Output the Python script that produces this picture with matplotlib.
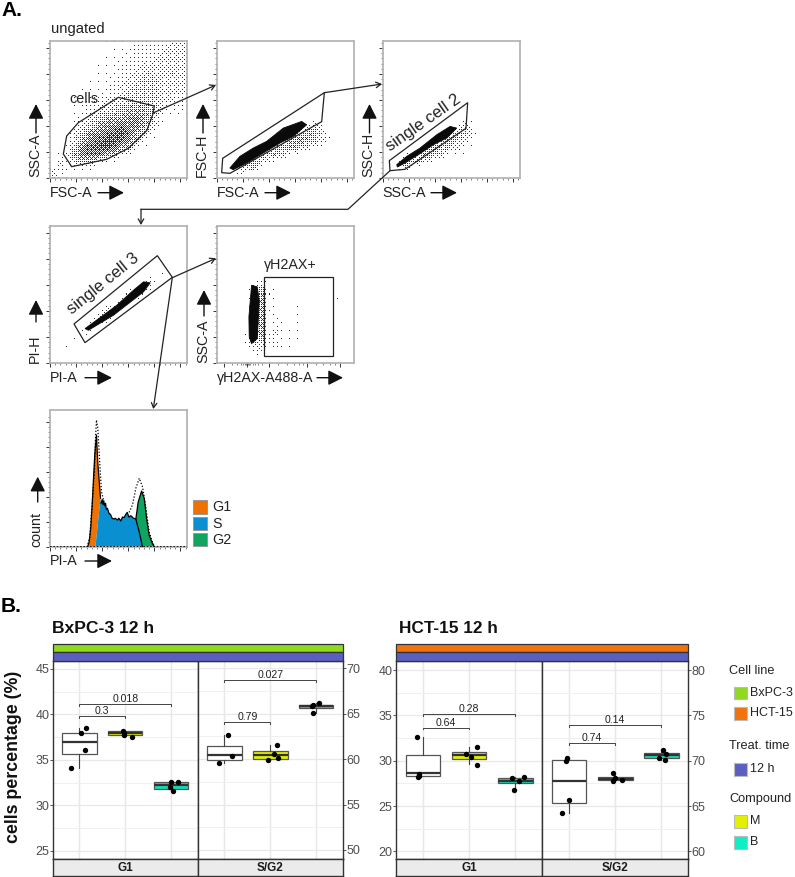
import numpy as np
import matplotlib
matplotlib.use("Agg")
import matplotlib.pyplot as plt
from matplotlib.patches import Rectangle, Polygon
from matplotlib.colors import ListedColormap

plt.rcParams['font.family'] = ['Liberation Sans', 'DejaVu Sans']

W, H = 795, 877

# ---------- panel A: flow-cytometry event density, read cell by cell (0-9) ----------
density_fsc_ssc = [
 "00000000111122222333","00000001011122223333","00000001111222233333","00000011112223333333",
 "00000011112233433433","00000111122334443333","00001111223344443333","00011111223444443333",
 "00011122333444443322","00011223344555443222","00011234455666542111","00012345666776531000",
 "00023456778776420000","00034677889865310000","00135788998753100000","01146889986531000000",
 "01257887653200000000","02245543210000000000","13111110000000000000","41100000000000000000"]
density_fsca_fsch = [
 "00000000000000000000","00000000000000000000","00000000000000000000","00000000000000000000",
 "00000000000000000000","00000000000000000000","00000000000000000000","00000000000000000000",
 "00000000000000000000","00000000000000000000","00000000000000000000","00000000000000100000",
 "00000000000014520000","00000000000256531000","00000000016675531000","00000001556643200000",
 "00000145652100000000","00015653100000000000","00145510000000000000","00120000000000000000"]
density_ssca_ssch = [
 "00000000000000000000","00000000000000000000","00000000000000000000","00000000000000000000",
 "00000000000000000000","00000000000000000000","00000000000000000000","00000000000000000000",
 "00000000000000000000","00000000000000000000","00000000000000000000","00000000000110000000",
 "00000000001440000000","00000000025542000000","00000002565421000000","00000256553211000000",
 "00012565421210000000","00155531000000000000","00351000000000000000","00000000000000000000"]
density_pia_pih = [
 "00000000000000000000","00000000000000000000","00000000000000000000","00000000000000000000",
 "00000000000000000000","00000000000000000100","00000000000000001010","00000000000000111000",
 "00000000000002420000","00000000000134200000","00000000002420100000","00000000035100000000",
 "00000002530000000000","00000025200000000000","00000141000000000000","00002200000000000000",
 "00010000000000000000","00100000000000000000","01000000000000000000","10000000000000000000"]
density_h2ax_ssc = [
 "00000000000000000000","00000000000000000000","00000000000000000000","00000000000000000000",
 "00000000000000000000","00000000000000000000","00000000000000000000","00000000000000000000",
 "00000130010000000000","00000362100100000000","00000371100000000100","00000471100100000000",
 "00001472100110000000","00001471210100000000","00001471211100000000","00002471311110000000",
 "00002462211100000000","00002431311000000000","00000210000000000000","00000000000000000000"]

# dense core of each narrow population, outlined from the picture (x, y in channel units)
core_fsca_x = [25.6, 44.8, 70.4, 96, 128, 163.2, 172.8, 147.2, 121.6, 89.6, 57.6, 32]
core_fsca_y = [19.2, 41.6, 57.6, 70.4, 96, 108.8, 102.4, 80, 67.2, 48, 28.8, 16]
core_ssca_x = [26.9, 46.1, 71.7, 103.7, 129.3, 142, 122.9, 97.3, 68.5, 42.9, 28.2]
core_ssca_y = [25.6, 41.6, 57.6, 83.2, 99.2, 96, 76.8, 64, 44.8, 28.8, 21.1]
core_pia_x = [67.2, 96, 128, 160, 179.2, 192, 179.2, 150.4, 121.6, 89.6, 73.6]
core_pia_y = [65.9, 87, 110.7, 139.5, 155.5, 153.6, 136.3, 113.9, 91.5, 72.3, 62.7]
core_h2ax_x = [67.2, 78.1, 81.9, 80, 78.1, 67.2, 62.7, 62.1, 65.3]
core_h2ax_y = [149, 145.9, 120.3, 81.9, 46.7, 37.1, 49.9, 88.3, 126.7]

# ---------- panel A: PI histogram ----------
g1_x = [72, 75, 78, 81, 84, 86, 89, 91.5, 94.8, 96.8, 87]
g1_y = [0, 4, 15, 35, 60, 75, 89.6, 68, 50, 39, 0]
s_x = [87, 96.8, 98, 100, 101.5, 103, 104.5, 106.5, 108, 110, 113, 116, 119, 122.6, 125, 129, 132, 135.5, 139, 142, 145, 148, 151, 155, 160, 164.5, 171, 177.4]
s_y = [0, 39, 35, 38, 34, 37, 33, 35, 30, 31, 27, 26, 23, 22.4, 23, 21.6, 23, 20.8, 24, 23.5, 26, 27.7, 24, 25, 23, 22.4, 12, 0]
g2_x = [164.5, 169, 175.5, 180.6, 185, 190, 195, 200, 177.4]
g2_y = [22.4, 36, 44.8, 39, 23, 9.6, 4, 0, 0]
env_x = [71, 76, 85, 86.5, 89, 91.6, 94.8, 98.7, 103]
env_y = [0, 7, 60, 81.6, 101.6, 95, 71, 44, 37]
env2_x = [151.6, 158, 164.5, 171, 177.4, 183.9, 190, 197, 201]
env2_y = [27.7, 33.6, 47, 55, 48, 31, 12, 3, 0]

# ---------- panel B: box statistics (low, q1, median, q3, high) for the three groups ----------
bx_g1_low = [34.1, 37.7, 31.84];  bx_g1_q1 = [35.6, 37.7, 31.84];  bx_g1_med = [37.0, 37.94, 32.24]
bx_g1_q3 = [38.0, 38.16, 32.57];  bx_g1_high = [38.5, 38.16, 32.57]
bx_g1_px = [[-.175, .036, .146, .117], [-.05, -.036, -.036, .146], [0, .146, -.015, .044]]
bx_g1_py = [[34.1, 37.9, 38.5, 36.1], [38.16, 37.94, 37.7, 37.5], [32.54, 32.6, 32.06, 31.6]]

bx_sg_low = [59.56, 59.85, 65.1];  bx_sg_q1 = [59.93, 60.04, 65.6];  bx_sg_med = [60.4, 60.4, 65.85]
bx_sg_q3 = [61.47, 60.88, 66.0];  bx_sg_high = [62.6, 61.58, 66.18]
bx_sg_px = [[-.124, .08, .168], [-.044, .153, .08, .175], [-.095, -.06, .058, -.08]]
bx_sg_py = [[59.56, 62.6, 60.33], [59.85, 61.54, 60.6, 60.15], [65.8, 65.9, 66.18, 65.1]]

hc_g1_low = [28.32, 29.65, 26.8];  hc_g1_q1 = [28.32, 30.17, 27.5];  hc_g1_med = [28.62, 30.6, 27.77]
hc_g1_q3 = [30.6, 30.98, 28.14];  hc_g1_high = [32.6, 31.5, 28.25]
hc_g1_px = [[-.139, -.088, -.1, -.085], [-.073, .036, .168, .18], [-.08, .08, .19, -.03]]
hc_g1_py = [[32.6, 28.55, 28.18, 28.35], [30.75, 30.4, 31.5, 29.58], [28.07, 27.77, 28.25, 26.78]]

hc_sg_low = [64.2, 67.85, 70.05];  hc_sg_q1 = [65.3, 67.85, 70.28];  hc_sg_med = [67.8, 68.03, 70.6]
hc_sg_q3 = [70.05, 68.25, 70.9];  hc_sg_high = [70.35, 68.66, 71.23]
hc_sg_px = [[-.16, -.007, -.08, -.044], [-.05, 0, -.05, .146], [.03, .11, -.058, .088]]
hc_sg_py = [[64.2, 65.67, 69.95, 70.35], [68.66, 68.07, 67.8, 67.85], [71.23, 70.75, 70.35, 70.05]]

# brackets: (from category, to category, height, label)
br_bx_g1 = [(1, 2, 39.8, "0.3"), (1, 3, 41.14, "0.018")]
br_bx_sg = [(1, 2, 64.08, "0.79"), (1, 3, 68.71, "0.027")]
br_hc_g1 = [(1, 2, 33.63, "0.64"), (1, 3, 35.14, "0.28")]
br_hc_sg = [(1, 2, 71.9, "0.74"), (1, 3, 73.89, "0.14")]

phase_names = ["G1", "S", "G2"]
cell_lines = ["BxPC-3", "HCT-15"]
compounds = ["M", "B"]

C_G1, C_S, C_G2 = "#EE7203", "#0A8FD0", "#0FA560"
C_BX, C_HC, C_TIME = "#8FD91F", "#F2720F", "#5B5FBF"
C_M, C_B = "#E3F000", "#0FEFC6"
BOX_COL = ["white", C_M, "#12DDB8"]

fig = plt.figure(figsize=(W / 100, H / 100), dpi=100)


def px_axes(x0, y0, x1, y1, **kw):
    return fig.add_axes([x0 / W, 1 - y1 / H, (x1 - x0) / W, (y1 - y0) / H], **kw)


def flow_axes(x0, y0, x1, y1):
    ax = px_axes(x0, y0, x1, y1)
    ax.set_xlim(0, 262.5)
    ax.set_ylim(0, 262.5)
    ax.set_xticks(np.arange(0, 251, 50))
    ax.set_yticks(np.arange(0, 251, 50))
    ax.set_xticks(np.arange(0, 261, 10), minor=True)
    ax.set_yticks(np.arange(0, 261, 10), minor=True)
    ax.tick_params(which='major', length=3, width=0.7, color='#333', labelleft=False, labelbottom=False)
    ax.tick_params(which='minor', length=1.5, width=0.5, color='#555')
    for s in ax.spines.values():
        s.set_color('#b0b0b0')
        s.set_linewidth(1.2)
    return ax


def bayer(n):
    m = np.array([[0.0]])
    while m.shape[0] < n:
        m = np.block([[4 * m, 4 * m + 2], [4 * m + 3, 4 * m + 1]])
    return (m + 0.5) / (n * n)


def density(ax, grid, vmax=9):
    """Render the typed density grid as a halftone of single event-sized dots."""
    arr = np.array([[int(c) for c in row.ljust(20, '0')] for row in grid], float) / vmax
    n = 137
    centres = (np.arange(20) + 0.5) * n / 20
    pos = np.arange(n) + 0.5
    fine = np.array([np.interp(pos, centres, r) for r in arr])
    fine = np.array([np.interp(pos, centres, c) for c in fine.T]).T
    thr = np.tile(bayer(8), (n // 8 + 1, n // 8 + 1))[:n, :n]
    dots = (fine ** 1.7 > thr).astype(float)
    ax.imshow(dots, extent=[0, 262.5, 0, 262.5], origin='upper', cmap=ListedColormap(['white', '#303030']),
              vmin=0, vmax=1, interpolation='nearest', aspect='auto', zorder=1)


PANELS = [(50, 41.5, 187, 178), (216.5, 41.5, 353.5, 178), (382.7, 41.5, 519.5, 178),
          (50, 226, 187, 363), (216.5, 226, 353.5, 363)]
GRIDS = [density_fsc_ssc, density_fsca_fsch, density_ssca_ssch, density_pia_pih, density_h2ax_ssc]
VMAX = [11, 12, 12, 12, 12]
CORES = [None, (core_fsca_x, core_fsca_y), (core_ssca_x, core_ssca_y), (core_pia_x, core_pia_y), (core_h2ax_x, core_h2ax_y)]
for box, gr, vm, core in zip(PANELS, GRIDS, VMAX, CORES):
    a = flow_axes(*box)
    density(a, gr, vm)
    if core is not None:
        a.fill(core[0], core[1], facecolor='#0a0a0a', edgecolor='#0a0a0a', lw=0.6, zorder=2)
    if gr is density_h2ax_ssc:
        a.set_xticks([14, 58, 101, 173, 237])
        a.set_xticks([30, 40, 47, 51, 54, 56, 60, 62, 65, 69, 74, 80, 88, 118, 135, 148, 158, 166, 190, 205, 217, 228], minor=True)

# histogram
hx = flow_axes(50, 410, 187, 547)
hx.set_ylim(0, 109.6)
hx.set_yticks(np.arange(0, 101, 20))
hx.set_yticks(np.arange(0, 108, 4), minor=True)
hx.fill(g1_x, g1_y, facecolor=C_G1, edgecolor='none', zorder=2)
hx.fill(s_x, s_y, facecolor=C_S, edgecolor='none', zorder=2)
hx.fill(g2_x, g2_y, facecolor=C_G2, edgecolor='none', zorder=2)
hx.plot(g1_x[:-1], g1_y[:-1], color='k', lw=0.9, zorder=3)
hx.plot(s_x[2:], s_y[2:], color='k', lw=0.9, zorder=3)
hx.plot(g2_x[:-1], g2_y[:-1], color='k', lw=0.9, zorder=3)
hx.plot(env_x, env_y, color='k', lw=0.9, ls=(0, (1, 1.5)), zorder=3)
hx.plot(env2_x, env2_y, color='k', lw=0.9, ls=(0, (1, 1.5)), zorder=3)
hx.plot([0, 262.5], [0, 0], color='k', lw=1.2, ls=(0, (1, 1)), zorder=3)


def facet(box, ylim, low, q1, med, q3, high, px, py, brackets, strip, left_labels):
    ax = px_axes(*box)
    ax.set_xlim(0.416, 3.584)
    ax.set_ylim(*ylim)
    start = int(np.ceil(ylim[0] / 5) * 5)
    major = np.arange(start, ylim[1], 5)
    ax.set_yticks(major)
    ax.set_yticks(major[:-1] + 2.5, minor=True)
    ax.set_xticks([1, 2, 3])
    ax.grid(True, which='major', color='#e8e8e8', lw=0.9)
    ax.grid(True, which='minor', axis='y', color='#f0f0f0', lw=0.7)
    ax.set_axisbelow(True)
    ax.tick_params(which='minor', length=0)
    ax.tick_params(axis='x', length=0, labelbottom=False)
    ax.tick_params(axis='y', length=2, width=0.7, color='#555', labelsize=9, labelcolor='#4d4d4d',
                   pad=0.5, left=left_labels, labelleft=left_labels,
                   right=not left_labels, labelright=not left_labels)
    stats = [dict(whislo=low[i], q1=q1[i], med=med[i], q3=q3[i], whishi=high[i], fliers=[]) for i in range(3)]
    bp = ax.bxp(stats, positions=[1, 2, 3], widths=0.75, showcaps=False, showfliers=False, patch_artist=True,
                boxprops=dict(edgecolor='#555', linewidth=0.9),
                medianprops=dict(color='#333', linewidth=1.6),
                whiskerprops=dict(color='#444', linewidth=0.8), zorder=2)
    for patch, c in zip(bp['boxes'], BOX_COL):
        patch.set_facecolor(c)
    for i in range(3):
        ax.scatter(np.array(px[i]) + i + 1, py[i], s=15, color='k', zorder=4, linewidths=0)
    tip = 0.18
    for a_, b_, y, lab in brackets:
        ax.plot([a_, a_, b_, b_], [y - tip, y, y, y - tip], color='#444', lw=0.7, zorder=3)
        ax.text((a_ + b_) / 2, y + 0.03, lab, ha='center', va='bottom', fontsize=7.6, color='#222')
    for s in ax.spines.values():
        s.set_color('#333')
        s.set_linewidth(1.0)
    st = px_axes(box[0], box[3], box[2], box[3] + 17)
    st.set_xticks([]); st.set_yticks([])
    st.set_facecolor('#ebebeb')
    for s in st.spines.values():
        s.set_color('#333')
        s.set_linewidth(1.0)
    st.text(0.5, 0.47, strip, transform=st.transAxes, ha='center', va='center', fontsize=8.5, fontweight='bold', color='#1a1a1a')
    return ax


facet((52.7, 660.5, 197.7, 858.7), (24.12, 45.92), bx_g1_low, bx_g1_q1, bx_g1_med, bx_g1_q3, bx_g1_high, bx_g1_px, bx_g1_py, br_bx_g1, "G1", True)
facet((197.7, 660.5, 343, 858.7), (49.04, 70.85), bx_sg_low, bx_sg_q1, bx_sg_med, bx_sg_q3, bx_sg_high, bx_sg_px, bx_sg_py, br_bx_sg, "S/G2", False)
facet((396, 661, 542.3, 859.3), (19.12, 41.0), hc_g1_low, hc_g1_q1, hc_g1_med, hc_g1_q3, hc_g1_high, hc_g1_px, hc_g1_py, br_hc_g1, "G1", True)
facet((542.3, 661, 688.3, 859.3), (59.12, 81.0), hc_sg_low, hc_sg_q1, hc_sg_med, hc_sg_q3, hc_sg_high, hc_sg_px, hc_sg_py, br_hc_sg, "S/G2", False)

# ---------- overlay in pixel coordinates: gates, arrows, labels, legends ----------
ov = fig.add_axes([0, 0, 1, 1], facecolor='none')
ov.set_xlim(0, W)
ov.set_ylim(H, 0)
ov.axis('off')

z = 1 / 3
gates = [
    [(355, 292), (463, 318), (458, 345), (440, 392), (385, 445), (320, 478), (215, 500), (190, 462), (200, 408), (235, 368)],
    [(973, 278), (965, 365), (690, 520), (665, 518), (668, 475)],
]
for g in gates:
    ov.add_patch(Polygon([(x * z, y * z) for x, y in g], closed=True, fill=False, ec='#222', lw=0.9))
g3 = [(323, 248), (318, 325), (135, 448), (90, 452), (88, 422)]
ov.add_patch(Polygon([(360 + x * z, 20 + y * z) for x, y in g3], closed=True, fill=False, ec='#222', lw=0.9))
g4 = [(472, 137), (517, 202), (255, 398), (222, 342)]
ov.add_patch(Polygon([(x * z, 210 + y * z) for x, y in g4], closed=True, fill=False, ec='#222', lw=0.9))
ov.add_patch(Rectangle((793 * z, 210 + 200 * z), 207 * z, 238 * z, fill=False, ec='#222', lw=0.9))


def thin_arrow(pts):
    xs, ys = zip(*pts)
    if len(pts) > 2:
        ov.plot(xs[:-1], ys[:-1], color='#222', lw=0.9, solid_joinstyle='miter')
    ov.annotate('', xy=pts[-1], xytext=pts[-2], arrowprops=dict(arrowstyle='->,head_length=0.35,head_width=0.2', color='#222', lw=0.9, shrinkA=0, shrinkB=0))


thin_arrow([(153, 113), (216, 85)])
thin_arrow([(324.3, 92.7), (382, 84)])
thin_arrow([(390, 170.7), (348, 209.3), (141, 209.3), (141, 225)])
thin_arrow([(172.3, 277.7), (216, 258.3)])
thin_arrow([(172.3, 277.7), (153.3, 409)])


def big_arrow(p0, p1):
    ov.annotate('', xy=p1, xytext=p0, arrowprops=dict(arrowstyle='-|>,head_length=0.75,head_width=0.38', color='#111', lw=1.0, shrinkA=0, shrinkB=0, mutation_scale=12))


FS = 10.3
TXT = '#222'
xlabels = [("FSC-A", 49.5, 192.7, 98, 124), ("FSC-A", 216.5, 192.7, 265, 291), ("SSC-A", 382.7, 192.7, 431, 457),
           ("PI-A", 50, 377.7, 85, 112), ("γH2AX-A488-A", 216.5, 377.7, 317, 343), ("PI-A", 50, 561, 85, 112)]
for t, x, y, a0, a1 in xlabels:
    ov.text(x, y, t, fontsize=FS, ha='left', va='center', color=TXT)
    big_arrow((a0, y), (a1, y))
ylabels = [("SSC-A", 35, 177, 133, 104), ("FSC-H", 202, 177, 133, 104), ("SSC-H", 368.5, 177, 133, 104),
           ("PI-H", 35, 362.7, 322, 300), ("SSC-A", 203, 362.7, 316, 290), ("count", 36.7, 546.7, 502, 476.7)]
for t, x, y, a0, a1 in ylabels:
    ov.text(x, y, t, fontsize=FS, rotation=90, ha='center', va='bottom', color=TXT)
    big_arrow((x + 1, a0), (x + 1, a1))

ov.text(50.7, 29.3, "ungated", fontsize=10.6, va='center', color=TXT)
ov.text(84, 99, "cells", fontsize=10.4, ha='center', va='center', color=TXT)
ov.text(423, 122.7, "single cell 2", fontsize=12, rotation=35, ha='center', va='center', color=TXT)
ov.text(103, 284, "single cell 3", fontsize=12, rotation=39, ha='center', va='center', color=TXT)
ov.text(290.7, 265, "γH2AX+", fontsize=FS, ha='center', va='center', color=TXT)
ov.text(1, 11, "A.", fontsize=15, fontweight='bold', va='center', color='k')
ov.text(1, 606, "B.", fontsize=15, fontweight='bold', va='center', color='k')

# phase legend
for name, c, y in zip(phase_names, [C_G1, C_S, C_G2], [500, 516.7, 532.7]):
    ov.add_patch(Rectangle((193, y), 13.5, 13.5, fc=c, ec='#999', lw=0.7))
    ov.text(212.7, y + 7, name, fontsize=FS, va='center', color=TXT)

# panel B text
ov.text(52.5, 628.5, "BxPC-3 12 h", fontsize=12.6, fontweight='bold', va='center', color='#111')
ov.text(399, 628.5, "HCT-15 12 h", fontsize=12.4, fontweight='bold', va='center', color='#111')
ov.text(14, 756.7, "cells percentage (%)", fontsize=12.8, fontweight='bold', rotation=90, ha='center', va='center', color='#111')

# top strips
for x0, x1, c in [(52.7, 343, C_BX), (396, 688.3, C_HC)]:
    ov.add_patch(Rectangle((x0, 644), x1 - x0, 8.3, fc=c, ec='#333', lw=0.9))
    ov.add_patch(Rectangle((x0, 652.3), x1 - x0, 8.4, fc=C_TIME, ec='#333', lw=0.9))

# B legend
ov.text(729, 671, "Cell line", fontsize=9.2, va='center', color=TXT)
ov.text(729, 746, "Treat. time", fontsize=9.2, va='center', color=TXT)
ov.text(729, 799, "Compound", fontsize=9.2, va='center', color=TXT)
entries = [(cell_lines[0], C_BX, 686.7), (cell_lines[1], C_HC, 707), ("12 h", C_TIME, 763),
           (compounds[0], C_M, 815), (compounds[1], C_B, 836)]
for name, c, y in entries:
    ov.add_patch(Rectangle((734, y), 12.5, 12.5, fc=c, ec='#bbb', lw=0.8))
    ov.text(750, y + 6.3, name, fontsize=9, va='center', color=TXT)

fig.savefig("out.png", dpi=100)
